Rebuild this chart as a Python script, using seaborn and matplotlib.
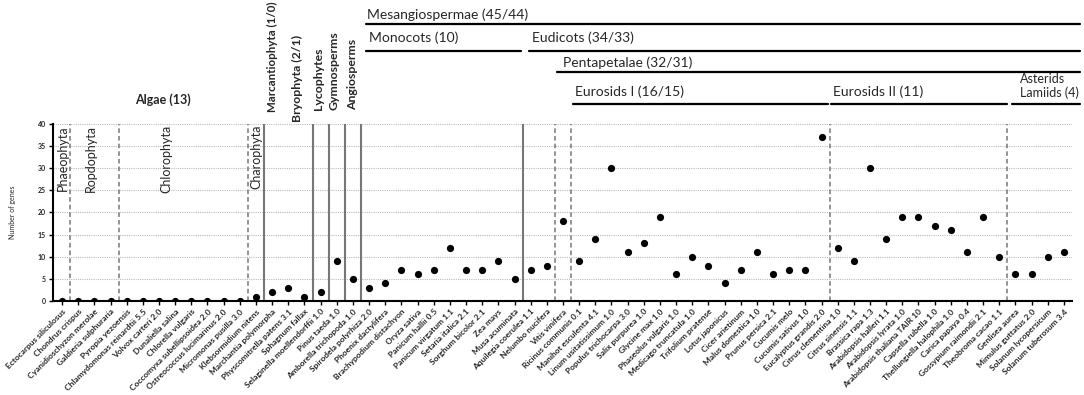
import numpy as np
import pandas as pd
import matplotlib.pyplot as plt
import seaborn as sns

species = [
    "Ectocarpus siliculosus", "Chondrus crispus", "Cyanidioschyzon merolae",
    "Galdieria sulphuraria", "Pyropia yezoensis", "Chlamydomonas reinardtii 5.5",
    "Volvox carteri 2.0", "Dunaliella salina", "Chlorella vulgaris",
    "Coccomyxa subellipsoidea 2.0", "Ostreococcus lucimarinus 2.0",
    "Micromonas pusilla 3.0", "Klebsormidium nitens", "Marchantia polymorpha",
    "Physcomitrella patens 3.1", "Sphagnum fallax", "Selaginella moellendorffii 1.0",
    "Pinus taeda 1.0", "Amborella trichopoda 1.0", "Spirodela polyrhiza 2.0",
    "Phoenix dactylifera", "Brachypodium distachyon", "Oryza sativa",
    "Panicum hallii 0.5", "Panicum virgatum 1.1", "Setaria italica 2.1",
    "Sorghum bicolor 2.1", "Zea mays", "Musa acuminata", "Aquilegia coerulea 1.1",
    "Nelumbo nucifera", "Vitis vinifera", "Ricinus communis 0.1",
    "Manihot esculenta 4.1", "Linum usitatissimum 1.0", "Populus trichocarpa 3.0",
    "Salix purpurea 1.0", "Glycine max 1.0", "Phaseolus vulgaris 1.0",
    "Medicago truncatula 1.0", "Trifolium pratense", "Lotus japonicus",
    "Cicer arietinum", "Malus domestica 1.0", "Prunus persica 2.1", "Cucumis melo",
    "Cucumis sativus 1.0", "Eucalyptus grandis 2.0", "Citrus clementina 1.0",
    "Citrus sinensis 1.1", "Brassica rapa 1.3", "Arabidopsis halleri 1.1",
    "Arabidopsis lyrata 1.0", "Arabidopsis thaliana TAIR 10", "Capsella rubella 1.0",
    "Thellungiella halophila 1.0", "Carica papaya 0.4", "Gossypium raimondii 2.1",
    "Theobroma cacao 1.1", "Genlisea aurea", "Mimulus guttatus 2.0",
    "Solanum lycopersicum", "Solanum tuberosum 3.4",
]
genes = [
    0, 0, 0, 0, 0, 0, 0, 0, 0, 0, 0, 0, 1, 2, 3, 1, 2, 9, 5, 3,
    4, 7, 6, 7, 12, 7, 7, 9, 5, 7, 8, 18, 9, 14, 30, 11, 13, 19, 6, 10,
    8, 4, 7, 11, 6, 7, 7, 37, 12, 9, 30, 14, 19, 19, 17, 16, 11, 19, 10, 6,
    6, 10, 11,
]

# clade separators (between categories)
dashed_sep = [0.5, 3.5, 11.5, 30.5, 31.5, 47.5, 58.5]
solid_sep = [12.5, 15.5, 16.5, 17.5, 18.5, 28.5]

df = pd.DataFrame({"species": species, "genes": genes})

sns.set_style("white")
plt.rcParams["font.family"] = ["Lato", "DejaVu Sans"]

fig = plt.figure(figsize=(10.84, 3.95), dpi=100)
ax = fig.add_axes([53 / 1084, 1 - 301 / 395, 1019 / 1084, 177 / 395])

sns.stripplot(data=df, x="species", y="genes", jitter=False, color="black",
              size=5.2, ax=ax, zorder=5)

ax.set_xlim(-0.56, 62.5)
ax.set_ylim(0, 40)
ax.set_yticks(range(0, 41, 5))
ax.set_yticklabels([str(v) for v in range(0, 41, 5)], fontsize=5, fontweight="bold")
ax.set_xticks(range(len(species)))
ax.set_xticklabels(species, rotation=45, ha="right", rotation_mode="anchor",
                   fontsize=6, fontweight="bold")
ax.tick_params(axis="both", direction="out", length=3, width=1, color="black",
               pad=2, left=True, bottom=True)
ax.grid(axis="y", color="#bbbbbb", linestyle=(0, (1, 1)), linewidth=0.8)
ax.set_axisbelow(True)
ax.set_xlabel("")
ax.set_ylabel("Number of genes", fontsize=5)
ax.yaxis.set_label_coords(-0.036, 0.5)
for s in ["top", "right"]:
    ax.spines[s].set_visible(False)
for s in ["left", "bottom"]:
    ax.spines[s].set_color("black")
    ax.spines[s].set_linewidth(1.5)

for x in dashed_sep:
    ax.axvline(x, color="#777777", linestyle=(0, (3, 2)), linewidth=1.1, zorder=2)
for x in solid_sep:
    ax.axvline(x, color="#777777", linestyle="-", linewidth=1.5, zorder=2)

trans = ax.get_xaxis_transform()

# group names inside the plot
for x, name in [(0.05, "Phaeophyta"), (1.8, "Ropdophyta"), (6.45, "Chlorophyta"),
                (12.0, "Charophyta")]:
    ax.text(x, 0.995, name, transform=trans, rotation=90, ha="center", va="top",
            fontsize=9, zorder=6)

# bold vertical headers above the plot
for x, y, name, fs in [(13.05, 1.065, "Marcantiophyta (1/0)", 8.3),
                       (14.55, 1.01, "Bryophyta (2/1)", 8.8),
                       (15.85, 1.08, "Lycophytes", 8.8),
                       (16.8, 1.08, "Gymnosperms", 8.8),
                       (18.0, 1.08, "Angiosperms", 8.8)]:
    ax.text(x, y, name, transform=trans, rotation=90, ha="center", va="bottom",
            fontsize=fs, fontweight="bold", clip_on=False)

ax.text(6.25, 1.136, "Algae (13)", transform=trans, ha="center", va="center",
        fontsize=9, fontweight="bold")

# clade bars
bars = [
    (18.8, 63.0, 1.565, "Mesangiospermae (45/44)", 18.9, 1.616, 10),
    (18.8, 28.4, 1.412, "Monocots (10)", 19.0, 1.49, 10),
    (28.9, 63.0, 1.412, "Eudicots (34/33)", 29.1, 1.49, 10),
    (30.6, 63.0, 1.294, "Pentapetalae (32/31)", 31.0, 1.345, 10),
    (31.6, 47.4, 1.113, "Eurosids I (16/15)", 31.75, 1.18, 10),
    (47.6, 58.5, 1.113, "Eurosids II (11)", 47.7, 1.18, 10),
    (58.8, 63.0, 1.113, "Asterids\nLamiids (4)", 59.3, 1.215, 9),
]
for x0, x1, y, name, tx, ty, fs in bars:
    ax.plot([x0, x1], [y, y], transform=trans, color="black", linewidth=1.6,
            clip_on=False)
    ax.text(tx, ty, name, transform=trans, ha="left", va="center", fontsize=fs,
            linespacing=1.1)

fig.savefig("out.png", dpi=100)
